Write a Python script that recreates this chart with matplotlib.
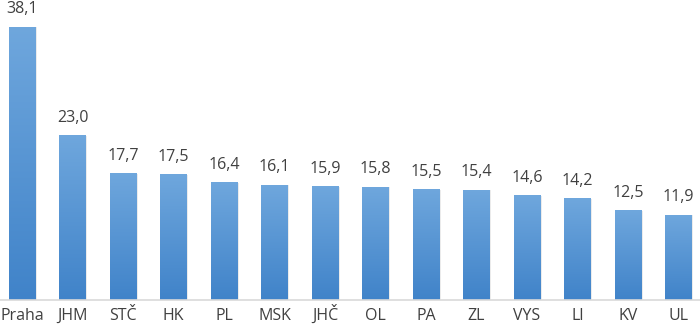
import matplotlib.pyplot as plt
import numpy as np
from matplotlib.patches import Rectangle

regions = ['Praha', 'JHM', 'STČ', 'HK', 'PL', 'MSK', 'JHČ', 'OL', 'PA', 'ZL', 'VYS', 'LI', 'KV', 'UL']
values = [38.1, 23.0, 17.7, 17.5, 16.4, 16.1, 15.9, 15.8, 15.5, 15.4, 14.6, 14.2, 12.5, 11.9]

plt.rcParams['font.family'] = ['Open Sans', 'DejaVu Sans']

fig = plt.figure(figsize=(7, 3.28), dpi=100)
ax = fig.add_axes([0, 0.085, 1, 0.915])

x = np.arange(len(regions))
width = 0.52
bars = ax.bar(x, values, width=width, color='none', edgecolor='none')

# vertical gradient, lighter at top
grad = np.linspace(0, 1, 256).reshape(-1, 1)
cmap = plt.matplotlib.colors.LinearSegmentedColormap.from_list('b', ['#4083c9', '#6fa7dd'])
for b in bars:
    bx, bw, bh = b.get_x(), b.get_width(), b.get_height()
    # soft shadow
    ax.add_patch(Rectangle((bx + 0.03, 0), bw, bh - 0.1, color='#000000', alpha=0.08, zorder=1, lw=0))
    im = ax.imshow(grad, extent=(bx, bx + bw, 0, bh), origin='lower', cmap=cmap,
                   aspect='auto', zorder=2)
    im.set_clip_path(b)
    ax.annotate(f'{b.get_height():.1f}'.replace('.', ','), (bx + bw / 2, bh),
                xytext=(0, 9.5), textcoords='offset points', ha='center', va='baseline',
                fontsize=11.5, color='#404040')

ax.set_xlim(-22 / 50.5, 678 / 50.5)
ax.set_ylim(0, 41.8)
ax.set_xticks(x)
ax.set_xticklabels(regions, fontsize=11.5, color='#404040', va='baseline')
ax.tick_params(axis='x', length=0, pad=14)
ax.set_yticks([])
for s in ['top', 'right', 'left']:
    ax.spines[s].set_visible(False)
ax.spines['bottom'].set_color('#d9d9d9')
ax.spines['bottom'].set_linewidth(1.2)

fig.savefig('out.png', dpi=100)
